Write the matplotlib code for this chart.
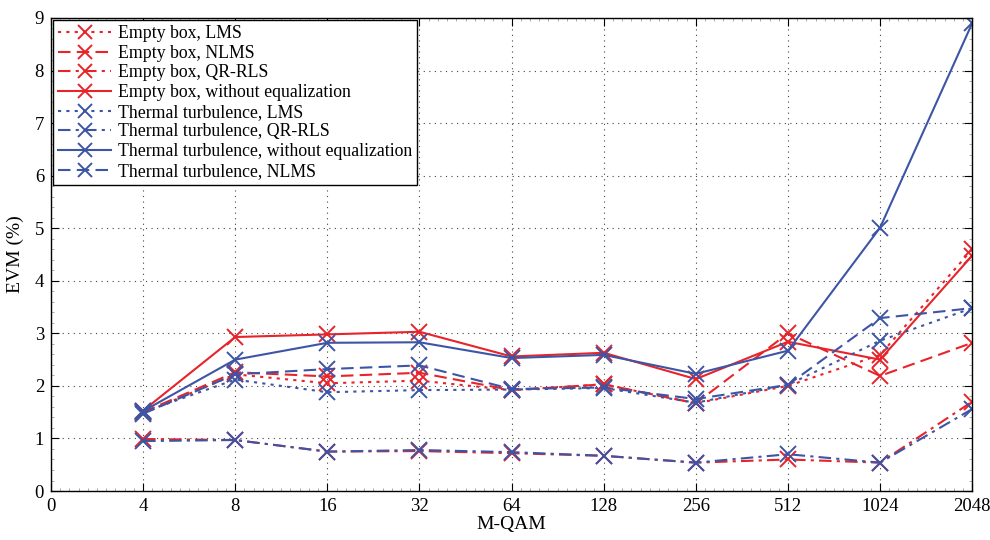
import matplotlib
matplotlib.use("Agg")
import matplotlib.pyplot as plt
from matplotlib.ticker import MultipleLocator

plt.rcParams['font.family'] = ['Liberation Serif', 'DejaVu Serif']

qam_labels = ['0', '4', '8', '16', '32', '64', '128', '256', '512', '1024', '2048']
x_pos = [1, 2, 3, 4, 5, 6, 7, 8, 9, 10]

empty_lms = [1.48, 2.22, 2.05, 2.10, 1.92, 2.03, 1.67, 2.00, 2.59, 4.60]
empty_nlms = [1.50, 2.26, 2.18, 2.25, 1.92, 2.03, 1.67, 3.00, 2.19, 2.82]
empty_qrrls = [0.99, 0.97, 0.75, 0.76, 0.72, 0.67, 0.54, 0.60, 0.54, 1.70]
empty_noeq = [1.53, 2.93, 2.98, 3.03, 2.56, 2.63, 2.13, 2.84, 2.50, 4.48]
thermal_lms = [1.50, 2.12, 1.88, 1.92, 1.93, 1.96, 1.68, 2.02, 2.86, 3.48]
thermal_qrrls = [0.95, 0.97, 0.75, 0.78, 0.74, 0.67, 0.54, 0.70, 0.54, 1.56]
thermal_noeq = [1.52, 2.50, 2.82, 2.83, 2.53, 2.59, 2.23, 2.67, 5.01, 8.90]
thermal_nlms = [1.47, 2.22, 2.32, 2.39, 1.94, 1.97, 1.75, 2.02, 3.29, 3.48]

red = '#e8232a'
blue = '#3d55a5'

series = [
    (empty_lms, red, (0, (1.5, 2.5)), 'Empty box, LMS'),
    (empty_nlms, red, (0, (6, 3)), 'Empty box, NLMS'),
    (empty_qrrls, red, (0, (6, 2.5, 1.5, 2.5)), 'Empty box, QR-RLS'),
    (empty_noeq, red, '-', 'Empty box, without equalization'),
    (thermal_lms, blue, (0, (1.5, 2.5)), 'Thermal turbulence, LMS'),
    (thermal_qrrls, blue, (0, (6, 2.5, 1.5, 2.5)), 'Thermal turbulence, QR-RLS'),
    (thermal_noeq, blue, '-', 'Thermal turbulence, without equalization'),
    (thermal_nlms, blue, (0, (6, 3)), 'Thermal turbulence, NLMS'),
]

fig = plt.figure(figsize=(9.9, 5.4), dpi=100)
ax = fig.add_axes([0.0515, 0.0907, 0.9305, 0.876])

for vals, c, ls, lab in series:
    ax.plot(x_pos, vals, color=c, linestyle=ls, linewidth=1.5, marker='x',
            markersize=11, markeredgewidth=1.4, label=lab)

ax.set_xlim(0, 10)
ax.set_ylim(0, 9)
ax.set_xticks(range(11))
ax.set_xticklabels(qam_labels)
ax.set_yticks(range(10))
ax.xaxis.set_minor_locator(MultipleLocator(0.1))
ax.yaxis.set_minor_locator(MultipleLocator(0.2))
ax.tick_params(which='both', direction='in', top=True, right=True, labelsize=13.5)
ax.tick_params(which='major', length=6, width=0.8, pad=5)
ax.tick_params(which='minor', length=2.5, width=0.5, colors='#888888')
ax.grid(True, which='major', linestyle=(0, (1, 4)), color='#444444', linewidth=0.8)
for s in ax.spines.values():
    s.set_linewidth(1.0)

ax.set_xlabel('M-QAM', fontsize=14, labelpad=1)
ax.set_ylabel('EVM (%)', fontsize=14, labelpad=8)

leg = ax.legend(loc='upper left', fontsize=12.8, frameon=True, fancybox=False,
                edgecolor='black', borderaxespad=0.1, handlelength=3.0,
                labelspacing=0.15, borderpad=0.3, handletextpad=0.35,
                markerscale=0.9)
leg.get_frame().set_linewidth(1.0)
leg.get_frame().set_alpha(1)

fig.savefig('out.png', dpi=100)
